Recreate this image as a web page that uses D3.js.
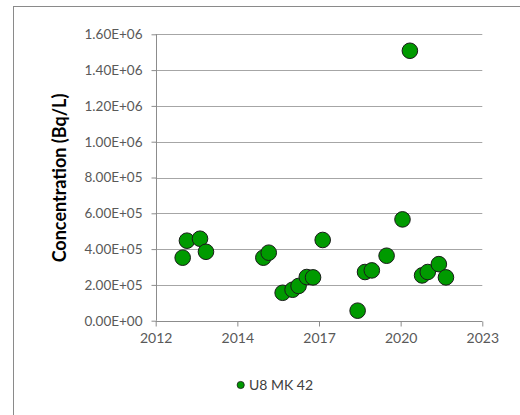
<!DOCTYPE html>
<html><head><meta charset="utf-8">
<script src="https://cdn.jsdelivr.net/npm/d3@7"></script>
<style>body{margin:0;background:#fff}svg{display:block}</style>
</head><body>
<script>
// Data (decimal year, concentration Bq/L)
const dates = [2012.95, 2013.10, 2013.56, 2013.77, 2015.79, 2015.98, 2016.47, 2016.82, 2017.03, 2017.32, 2017.54, 2017.88,
               2019.11, 2019.37, 2019.61, 2020.13, 2020.69, 2020.95, 2021.38, 2021.58, 2021.97, 2022.22];
const concentration = [352000, 447000, 458000, 385000, 352000, 380000, 156000, 173000, 194000, 244000, 242000, 451000,
               56000, 272000, 281000, 363000, 566000, 1508000, 253000, 272000, 316000, 242000];
const seriesName = "U8 MK 42";
const xTickValues = [2012, 2014.875, 2017.75, 2020.625, 2023.5];
const xTickLabels = ["2012", "2014", "2017", "2020", "2023"];
const yTickValues = [0, 200000, 400000, 600000, 800000, 1000000, 1200000, 1400000, 1600000];
const yTickLabels = ["0.00E+00","2.00E+05","4.00E+05","6.00E+05","8.00E+05","1.00E+06","1.20E+06","1.40E+06","1.60E+06"];

const W = 520, H = 415;
const svg = d3.select("body").append("svg").attr("width", W).attr("height", H);
svg.append("rect").attr("x", 13.5).attr("y", 6.5).attr("width", 520).attr("height", 430)
  .attr("fill", "#fff").attr("stroke", "#8a8a8a").attr("stroke-width", 1);

const x = d3.scaleLinear().domain([2012, 2023.5]).range([155.7, 482.3]);
const y = d3.scaleLinear().domain([0, 1600000]).range([320.7, 34.3]);
const font = "Lato, 'Open Sans', sans-serif";

// gridlines
svg.append("g").selectAll("line").data(yTickValues.slice(1)).join("line")
  .attr("x1", x.range()[0]).attr("x2", x.range()[1])
  .attr("y1", d => Math.round(y(d)) + 0.5).attr("y2", d => Math.round(y(d)) + 0.5)
  .attr("stroke", "#a6a6a6").attr("stroke-width", 1);

// y axis
const yAxis = d3.axisLeft(y).tickValues(yTickValues).tickSize(5).tickPadding(9)
  .tickFormat((d, i) => yTickLabels[i]);
const gy = svg.append("g").attr("transform", `translate(${Math.round(x.range()[0]) + 0.5},0)`).call(yAxis);
gy.select(".domain").attr("stroke", "#8c8c8c").attr("d", `M0,${y(0)}V${y(1600000)}`);
gy.selectAll(".tick line").attr("stroke", "#8c8c8c");
gy.selectAll(".tick text").attr("fill", "#595959").style("font", `13.5px ${font}`);

// x axis
const xAxis = d3.axisBottom(x).tickValues(xTickValues).tickSize(5).tickPadding(7)
  .tickFormat((d, i) => xTickLabels[i]);
const gx = svg.append("g").attr("transform", `translate(0,${Math.round(y(0)) + 0.5})`).call(xAxis);
gx.select(".domain").attr("stroke", "#8c8c8c").attr("d", `M${x.range()[0]},0H${x.range()[1]}`);
gx.selectAll(".tick line").attr("stroke", "#8c8c8c");
gx.selectAll(".tick text").attr("fill", "#595959").style("font", `14px ${font}`);

// y title
svg.append("text").attr("transform", "translate(66,178) rotate(-90)")
  .attr("text-anchor", "middle").attr("fill", "#000")
  .style("font", `bold 18px ${font}`).text("Concentration (Bq/L)");

// points
svg.append("g").selectAll("circle").data(dates.map((d, i) => [d, concentration[i]])).join("circle")
  .attr("cx", d => x(d[0])).attr("cy", d => y(d[1])).attr("r", 7.8)
  .attr("fill", "#009a00").attr("stroke", "#1a1a1a").attr("stroke-width", 1);

// legend
svg.append("circle").attr("cx", 240.7).attr("cy", 385).attr("r", 3.6)
  .attr("fill", "#009a00").attr("stroke", "#1a1a1a").attr("stroke-width", 0.8);
svg.append("text").attr("x", 249).attr("y", 390).attr("fill", "#404040")
  .style("font", `14px ${font}`).text(seriesName);
</script>
</body></html>
